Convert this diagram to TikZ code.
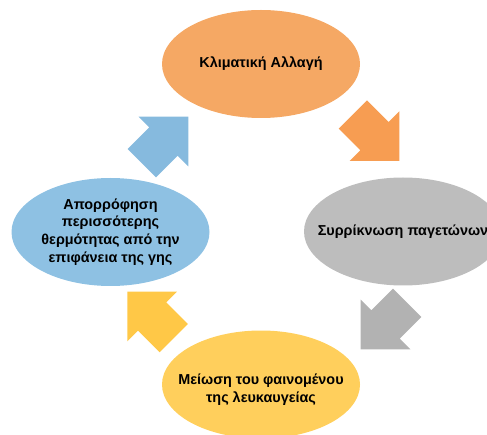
\documentclass[tikz,border=0pt]{standalone}
\usepackage{fontspec}
\setmainfont{Liberation Sans}
\usetikzlibrary{shapes}
\definecolor{climateorange}{HTML}{F5A864}
\definecolor{glaciergray}{HTML}{BDBDBD}
\definecolor{albedoyellow}{HTML}{FFCF5C}
\definecolor{heatblue}{HTML}{8EC1E3}
\definecolor{arroworange}{HTML}{F79D52}
\definecolor{arrowgray}{HTML}{B2B2B2}
\definecolor{arrowyellow}{HTML}{FFC847}
\definecolor{arrowblue}{HTML}{86BADE}
\tikzset{
	cyclearrow/.pic={
		\fill[pic actions] (-65.7, 20) -- (-35.1, 20) -- (-35.1, 35.1) -- (0, 0)
			-- (-35.1, -35.1) -- (-35.1, -20) -- (-65.7, -20) -- cycle;
	}
}

\begin{document}
\begin{tikzpicture}[x=1pt, y=1pt]

	\useasboundingbox (0, 0) rectangle (487, 434);

	\begin{scope}[
		phase/.style={
			ellipse, minimum width=198, minimum height=108, inner sep=0
		},
		phasetext/.style={
			align=center, inner sep=0, font=\bfseries\fontsize{14.4}{17.8}\selectfont
		}
	]

		%% Phases of the cycle
		\node[phase, fill=climateorange, label={[phasetext]center:Κλιματική Αλλαγή}] (climate) at (261, 370) {};
		\node[phase, fill=glaciergray, label={[phasetext]center:Συρρίκνωση παγετώνων}] (glaciers) at (403, 202.5) {};
		\node[phase, fill=albedoyellow, label={[phasetext, yshift=-5]center:Μείωση του φαινομένου\\της λευκαυγείας}] (albedo) at (261, 49.5) {};
		\node[phase, fill=heatblue, label={[phasetext]center:Απορρόφηση\\περισσότερης\\θερμότητας από την\\επιφάνεια της γης}] (absorption) at (110.5, 202) {};

		% Arrows between phases
		\pic[fill=arroworange, rotate=-45] at (399.3, 273) {cyclearrow};
		\pic[fill=arrowgray, rotate=-135] at (360.7, 84.7) {cyclearrow};
		\pic[fill=arrowyellow, rotate=135] at (127.3, 142.3) {cyclearrow};
		\pic[fill=arrowblue, rotate=45] at (188.3, 317.3) {cyclearrow};
	\end{scope}

\end{tikzpicture}
\end{document}
